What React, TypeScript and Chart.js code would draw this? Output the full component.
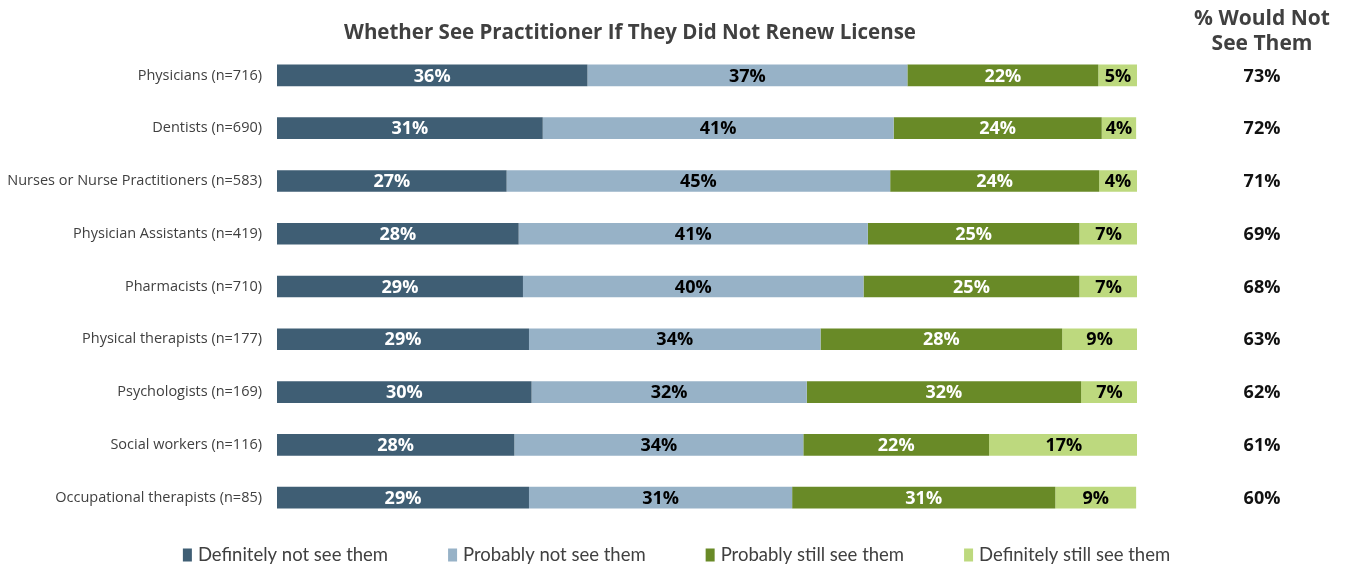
import React, { useEffect, useRef } from 'react';
import { Chart, registerables } from 'chart.js';

Chart.register(...registerables);

const categories = [
  'Physicians (n=716)',
  'Dentists (n=690)',
  'Nurses or Nurse Practitioners (n=583)',
  'Physician Assistants (n=419)',
  'Pharmacists (n=710)',
  'Physical therapists (n=177)',
  'Psychologists (n=169)',
  'Social workers (n=116)',
  'Occupational therapists (n=85)',
];
const seriesNames = [
  'Definitely not see them',
  'Probably not see them',
  'Probably still see them',
  'Definitely still see them',
];
const definitelyNot = [36.1, 30.9, 26.7, 28.1, 28.6, 29.3, 29.6, 27.6, 29.3];
const probablyNot = [37.2, 40.8, 44.6, 40.6, 39.6, 33.9, 32.0, 33.6, 30.6];
const probablyStill = [22.2, 24.2, 24.3, 24.6, 25.1, 28.1, 31.9, 21.6, 30.6];
const definitelyStill = [4.6, 4.0, 4.4, 6.8, 6.8, 8.7, 6.6, 17.4, 9.4];
const wouldNotSee = [73, 72, 71, 69, 68, 63, 62, 61, 60];
const chartTitle = 'Whether See Practitioner If They Did Not Renew License';
const sideHeader = ['% Would Not', 'See Them'];

const seriesColors = ['#3F5E74', '#97B2C7', '#698A27', '#BDD97E'];
const labelColors = ['#FFFFFF', '#000000', '#FFFFFF', '#000000'];
const FONT = "'Open Sans', 'Noto Sans', sans-serif";
const LEGEND_FONT = "Lato, 'Open Sans', sans-serif";

const overlay = {
  id: 'overlay',
  afterDatasetsDraw(chart: any) {
    const ctx = chart.ctx;
    ctx.save();
    ctx.font = `bold 18px ${FONT}`;
    ctx.textAlign = 'center';
    ctx.textBaseline = 'middle';
    chart.data.datasets.forEach((ds: any, di: number) => {
      const meta = chart.getDatasetMeta(di);
      meta.data.forEach((el: any, i: number) => {
        const v = ds.data[i];
        const p = el.getProps(['x', 'base', 'y'], true);
        ctx.fillStyle = labelColors[di];
        ctx.fillText(Math.round(v) + '%', (p.x + p.base) / 2, p.y + 1);
      });
    });
    ctx.restore();
  },
  afterDraw(chart: any) {
    const ctx = chart.ctx;
    const yScale = chart.scales.y;
    ctx.save();
    ctx.textAlign = 'center';
    ctx.textBaseline = 'middle';
    ctx.fillStyle = '#404040';
    ctx.font = `bold 20.5px ${FONT}`;
    ctx.fillText(chartTitle, 630, 33);
    ctx.font = `bold 21px ${FONT}`;
    ctx.fillText(sideHeader[0], 1262, 19);
    ctx.fillText(sideHeader[1], 1262, 44);
    ctx.fillStyle = '#111111';
    ctx.font = `bold 18px ${FONT}`;
    wouldNotSee.forEach((v, i) => {
      ctx.fillText(v + '%', 1262, yScale.getPixelForValue(i) + 1);
    });

    // legend
    ctx.font = `18.5px ${LEGEND_FONT}`;
    ctx.textAlign = 'left';
    const boxW = 9;
    const boxH = 13;
    const gapText = 6;
    const gapItem = 60;
    const widths = chart.data.datasets.map((ds: any) => boxW + gapText + ctx.measureText(ds.label).width);
    const total = widths.reduce((a: number, b: number) => a + b, 0) + gapItem * (widths.length - 1);
    let x = 676.5 - total / 2;
    const cy = 555;
    chart.data.datasets.forEach((ds: any, i: number) => {
      ctx.fillStyle = ds.backgroundColor;
      ctx.fillRect(x, cy - boxH / 2, boxW, boxH);
      ctx.fillStyle = '#404040';
      ctx.fillText(ds.label, x + boxW + gapText, cy);
      x += widths[i] + gapItem;
    });
    ctx.restore();
  },
};

export default function App() {
  const canvasRef = useRef<HTMLCanvasElement | null>(null);

  useEffect(() => {
    if (!canvasRef.current) return;
    const seriesValues = [definitelyNot, probablyNot, probablyStill, definitelyStill];
    const chart = new Chart(canvasRef.current, {
      type: 'bar',
      data: {
        labels: categories,
        datasets: seriesNames.map((name, i) => ({
          label: name,
          data: seriesValues[i],
          backgroundColor: seriesColors[i],
          borderWidth: 0,
          barPercentage: 0.41,
          categoryPercentage: 1,
        })),
      },
      options: {
        indexAxis: 'y',
        animation: false,
        responsive: true,
        maintainAspectRatio: false,
        layout: { padding: { left: 0, right: 211, top: 49, bottom: 44 } },
        plugins: {
          legend: { display: false },
          title: { display: false },
          tooltip: { enabled: false },
        },
        scales: {
          x: {
            stacked: true,
            min: 0,
            max: 100,
            display: false,
          },
          y: {
            stacked: true,
            grid: { display: false, drawTicks: false },
            border: { display: false },
            ticks: {
              padding: 15,
              color: '#404040',
              font: { family: FONT, size: 14.5 },
            },
            afterFit: (scale: any) => {
              scale.width = 277;
            },
          },
        },
      },
      plugins: [overlay],
    });
    return () => chart.destroy();
  }, []);

  return (
    <div style={{ position: 'fixed', left: 0, top: 0, width: 1348, height: 568, background: '#ffffff' }}>
      <canvas ref={canvasRef} />
    </div>
  );
}
